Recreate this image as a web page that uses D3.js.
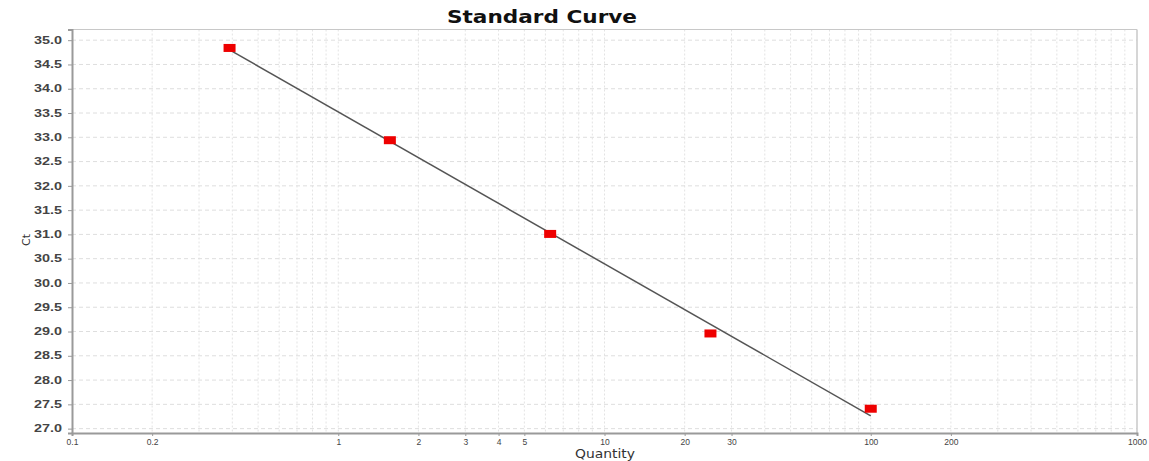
<!DOCTYPE html>
<html>
<head>
<meta charset="utf-8">
<script src="https://cdn.jsdelivr.net/npm/d3@7"></script>
<style>
html,body{margin:0;padding:0;background:#fff;}
svg{display:block;font-family:"DejaVu Sans","Liberation Sans",Arial,sans-serif;}
</style>
</head>
<body>
<svg id="chart" width="1149" height="461"></svg>
<script>
// Data
const quantities = [0.390625, 1.5625, 6.25, 25, 100];
const ctValues = [34.84, 32.94, 31.01, 28.96, 27.41];
const xTickValues = [0.1, 0.2, 1, 2, 3, 4, 5, 10, 20, 30, 100, 200, 1000];
const yTickValues = [27.0, 27.5, 28.0, 28.5, 29.0, 29.5, 30.0, 30.5, 31.0, 31.5, 32.0, 32.5, 33.0, 33.5, 34.0, 34.5, 35.0];
const titleText = "Standard Curve";
const xLabel = "Quantity";
const yLabel = "Ct";

(function () {
const svg = d3.select("#chart");
const pLeft = 72, pRight = 1137, pTop = 29.5, pBottom = 433;

const x = d3.scaleLog().domain([0.1, 1000]).range([pLeft, pRight]);
const y = d3.scaleLinear().domain([26.91, 35.22]).range([pBottom, pTop]);

// vertical grid (log minor lines)
const gridX = [];
for (let e = -1; e < 3; e++) {
  for (let m = 1; m <= 9; m++) {
    const v = m * Math.pow(10, e);
    if (v > 0.1) gridX.push(v);
  }
}
svg.append("g").selectAll("line").data(gridX).join("line")
  .attr("x1", d => x(d)).attr("x2", d => x(d))
  .attr("y1", pTop).attr("y2", pBottom)
  .attr("stroke", "#e3e3e3").attr("stroke-width", 1)
  .attr("stroke-dasharray", "2,2");

// horizontal grid
svg.append("g").selectAll("line").data(yTickValues).join("line")
  .attr("x1", pLeft).attr("x2", pRight)
  .attr("y1", d => y(d)).attr("y2", d => y(d))
  .attr("stroke", "#dedede").attr("stroke-width", 1)
  .attr("stroke-dasharray", "4,3");

// frame top/right
svg.append("line").attr("x1", pLeft).attr("x2", pRight).attr("y1", pTop).attr("y2", pTop)
  .attr("stroke", "#c8c8c8").attr("stroke-width", 1);
svg.append("line").attr("x1", pRight).attr("x2", pRight).attr("y1", pTop).attr("y2", pBottom)
  .attr("stroke", "#c8c8c8").attr("stroke-width", 1.5);

// axes
const xAxis = d3.axisBottom(x).tickValues(xTickValues).tickFormat(d => String(d)).tickSize(3).tickPadding(3);
const gx = svg.append("g").attr("transform", `translate(0,${pBottom})`).call(xAxis);
gx.select(".domain").attr("stroke", "#9a9a9a").attr("stroke-width", 2);
gx.selectAll(".tick line").attr("stroke", "#9a9a9a");
gx.selectAll("text").attr("fill", "#444").style("font-size", "8.5px");

const yAxis = d3.axisLeft(y).tickValues(yTickValues).tickFormat(d3.format(".1f")).tickSize(4).tickPadding(6);
const gy = svg.append("g").attr("transform", `translate(${pLeft},0)`).call(yAxis);
gy.select(".domain").attr("stroke", "#9a9a9a").attr("stroke-width", 2);
gy.selectAll(".tick line").attr("stroke", "#9a9a9a");
gy.selectAll("text").attr("fill", "#444").style("font-size", "10px").style("font-weight", "bold")
  .attr("textLength", 28).attr("lengthAdjust", "spacingAndGlyphs");

// regression line
const lx = quantities.map(q => Math.log10(q));
const mx = d3.mean(lx), my = d3.mean(ctValues);
const slope = d3.sum(lx.map((v, i) => (v - mx) * (ctValues[i] - my))) / d3.sum(lx.map(v => (v - mx) ** 2));
const intercept = my - slope * mx;
const ends = [d3.min(quantities), d3.max(quantities)];
svg.append("line")
  .attr("x1", x(ends[0])).attr("y1", y(intercept + slope * Math.log10(ends[0])))
  .attr("x2", x(ends[1])).attr("y2", y(intercept + slope * Math.log10(ends[1])))
  .attr("stroke", "#555").attr("stroke-width", 1.5);

// points
svg.append("g").selectAll("rect").data(quantities).join("rect")
  .attr("x", d => x(d) - 6).attr("y", (d, i) => y(ctValues[i]) - 4)
  .attr("width", 12).attr("height", 8)
  .attr("fill", "#ee0000");

// title
svg.append("text").attr("x", 542).attr("y", 23).attr("text-anchor", "middle")
  .style("font-size", "18px").style("font-weight", "bold").attr("fill", "#111")
  .attr("textLength", 190).attr("lengthAdjust", "spacingAndGlyphs").text(titleText);
// x label
svg.append("text").attr("x", 605).attr("y", 458).attr("text-anchor", "middle")
  .style("font-size", "12px").attr("fill", "#333")
  .attr("textLength", 60).attr("lengthAdjust", "spacingAndGlyphs").text(xLabel);
// y label
svg.append("text").attr("transform", `translate(30,240) rotate(-90)`).attr("text-anchor", "middle")
  .style("font-size", "11px").attr("fill", "#333").text(yLabel);
})();
</script>
</body>
</html>
